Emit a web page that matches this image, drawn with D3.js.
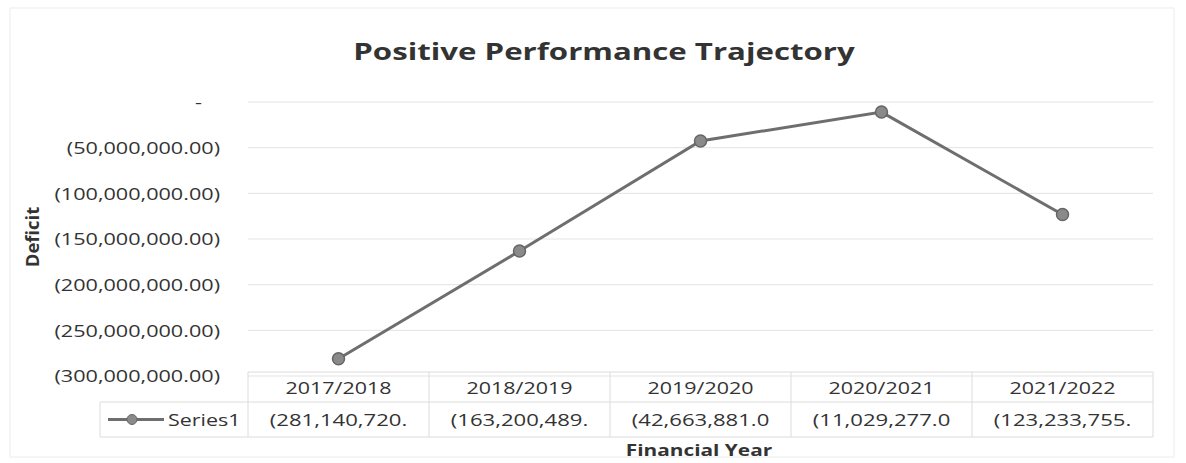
<!DOCTYPE html>
<html>
<head>
<meta charset="utf-8">
<script src="https://cdn.jsdelivr.net/npm/d3@7"></script>
<style>
  body { margin: 0; background: #fff; }
  text { font-family: "Open Sans", sans-serif; fill: #333; }
</style>
</head>
<body>
<div id="chart"></div>
<script>
// data
var years = ["2017/2018", "2018/2019", "2019/2020", "2020/2021", "2021/2022"];
var deficit = [-281140720, -163200489, -42663881, -11029277, -123233755];
var tableLabels = ["(281,140,720.", "(163,200,489.", "(42,663,881.0", "(11,029,277.0", "(123,233,755."];
var yTicks = [0, -50000000, -100000000, -150000000, -200000000, -250000000, -300000000];
var seriesName = "Series1";

var W = 1186, H = 463;
var margin = {top: 102, left: 248, right: 33, bottom: 87};
var plotW = W - margin.left - margin.right;
var plotH = H - margin.top - margin.bottom;

// the source text looks horizontally stretched, widen glyphs a bit
function stretch(sel, k) {
    sel.each(function() {
        var len = this.getComputedTextLength();
        d3.select(this)
            .attr("textLength", len * k)
            .attr("lengthAdjust", "spacingAndGlyphs");
    });
}

var svg = d3.select("#chart").append("svg")
    .attr("width", W)
    .attr("height", H);

// faint outer frame
svg.append("rect")
    .attr("x", 10).attr("y", 8)
    .attr("width", W - 22).attr("height", H - 14)
    .attr("fill", "none")
    .attr("stroke", "#ececec");

var g = svg.append("g")
    .attr("transform", "translate(" + margin.left + "," + margin.top + ")");

// scales
var x = d3.scaleBand()
    .domain(years)
    .range([0, plotW]);

var y = d3.scaleLinear()
    .domain([-300000000, 0])
    .range([plotH, 0]);

var fmt = d3.format(",.2f");
function acct(v) {
    if (v === 0) return "-";
    return v < 0 ? "(" + fmt(-v) + ")" : fmt(v);
}

// gridlines
g.selectAll("line.grid")
    .data(yTicks)
    .enter().append("line")
    .attr("class", "grid")
    .attr("x1", 0).attr("x2", plotW)
    .attr("y1", function(d) { return y(d); })
    .attr("y2", function(d) { return y(d); })
    .attr("stroke", "#e3e3e3")
    .attr("stroke-width", 1);

// y axis (no line, labels only)
var yAxis = d3.axisLeft(y)
    .tickValues(yTicks)
    .tickSize(0)
    .tickPadding(28)
    .tickFormat(acct);

var yg = g.append("g").call(yAxis);
yg.select(".domain").remove();
yg.selectAll("text")
    .style("font-size", "16.5px")
    .attr("fill", "#333")
    .attr("dy", "0.35em");
yg.selectAll("text").filter(function(d) { return d === 0; })
    .attr("dx", -18);
stretch(yg.selectAll("text"), 1.31);

// line + markers
var line = d3.line()
    .x(function(d, i) { return x(years[i]) + x.bandwidth() / 2; })
    .y(function(d) { return y(d); });

g.append("path")
    .datum(deficit)
    .attr("d", line)
    .attr("fill", "none")
    .attr("stroke", "#6e6e6e")
    .attr("stroke-width", 3);

g.selectAll("circle.pt")
    .data(deficit)
    .enter().append("circle")
    .attr("class", "pt")
    .attr("cx", function(d, i) { return x(years[i]) + x.bandwidth() / 2; })
    .attr("cy", function(d) { return y(d); })
    .attr("r", 6)
    .attr("fill", "#8a8a8a")
    .attr("stroke", "#666")
    .attr("stroke-width", 1.5);

// data table under the plot
var rowTop = plotH - 4, rowMid = plotH + 26, rowBot = plotH + 61;
var tbl = g.append("g").attr("class", "table");
var gridCol = "#dcdcdc";

tbl.append("line")
    .attr("x1", 0).attr("x2", plotW)
    .attr("y1", rowTop).attr("y2", rowTop)
    .attr("stroke", gridCol);
tbl.append("line")
    .attr("x1", -148).attr("x2", plotW)
    .attr("y1", rowMid).attr("y2", rowMid)
    .attr("stroke", gridCol);
tbl.append("line")
    .attr("x1", -148).attr("x2", plotW)
    .attr("y1", rowBot).attr("y2", rowBot)
    .attr("stroke", gridCol);

var edges = years.map(function(d) { return x(d); }).concat([plotW]);
tbl.selectAll("line.vcol")
    .data(edges)
    .enter().append("line")
    .attr("class", "vcol")
    .attr("x1", function(d) { return d; })
    .attr("x2", function(d) { return d; })
    .attr("y1", rowTop).attr("y2", rowBot)
    .attr("stroke", gridCol);
tbl.append("line")
    .attr("x1", -148).attr("x2", -148)
    .attr("y1", rowMid).attr("y2", rowBot)
    .attr("stroke", gridCol);

var yrText = tbl.selectAll("text.yr")
    .data(years)
    .enter().append("text")
    .attr("class", "yr")
    .attr("x", function(d) { return x(d) + x.bandwidth() / 2; })
    .attr("y", (rowTop + rowMid) / 2)
    .attr("dy", "0.4em")
    .attr("text-anchor", "middle")
    .style("font-size", "16.5px")
    .text(function(d) { return d; });
stretch(yrText, 1.3);

var valText = tbl.selectAll("text.val")
    .data(tableLabels)
    .enter().append("text")
    .attr("class", "val")
    .attr("x", function(d, i) { return x(years[i]) + x.bandwidth() / 2; })
    .attr("y", (rowMid + rowBot) / 2)
    .attr("dy", "0.4em")
    .attr("text-anchor", "middle")
    .style("font-size", "16.5px")
    .text(function(d) { return d; });
stretch(valText, 1.34);

// legend key in table
var ly = (rowMid + rowBot) / 2;
tbl.append("line")
    .attr("x1", -140).attr("x2", -84)
    .attr("y1", ly).attr("y2", ly)
    .attr("stroke", "#6e6e6e")
    .attr("stroke-width", 3);
tbl.append("circle")
    .attr("cx", -116).attr("cy", ly)
    .attr("r", 5)
    .attr("fill", "#8a8a8a")
    .attr("stroke", "#666");
var legText = tbl.append("text")
    .attr("x", -80).attr("y", ly)
    .attr("dy", "0.4em")
    .style("font-size", "16.5px")
    .text(seriesName);
stretch(legText, 1.3);

// titles
var title = svg.append("text")
    .attr("x", 604).attr("y", 60)
    .attr("text-anchor", "middle")
    .style("font-size", "24px")
    .style("font-weight", "bold")
    .text("Positive Performance Trajectory");
stretch(title, 1.3);

svg.append("text")
    .attr("transform", "translate(39,237) rotate(-90)")
    .attr("text-anchor", "middle")
    .style("font-size", "18.5px")
    .style("font-weight", "bold")
    .text("Deficit");

var xTitle = svg.append("text")
    .attr("x", 699).attr("y", 456)
    .attr("text-anchor", "middle")
    .style("font-size", "16px")
    .style("font-weight", "bold")
    .text("Financial Year");
stretch(xTitle, 1.3);
</script>
</body>
</html>
